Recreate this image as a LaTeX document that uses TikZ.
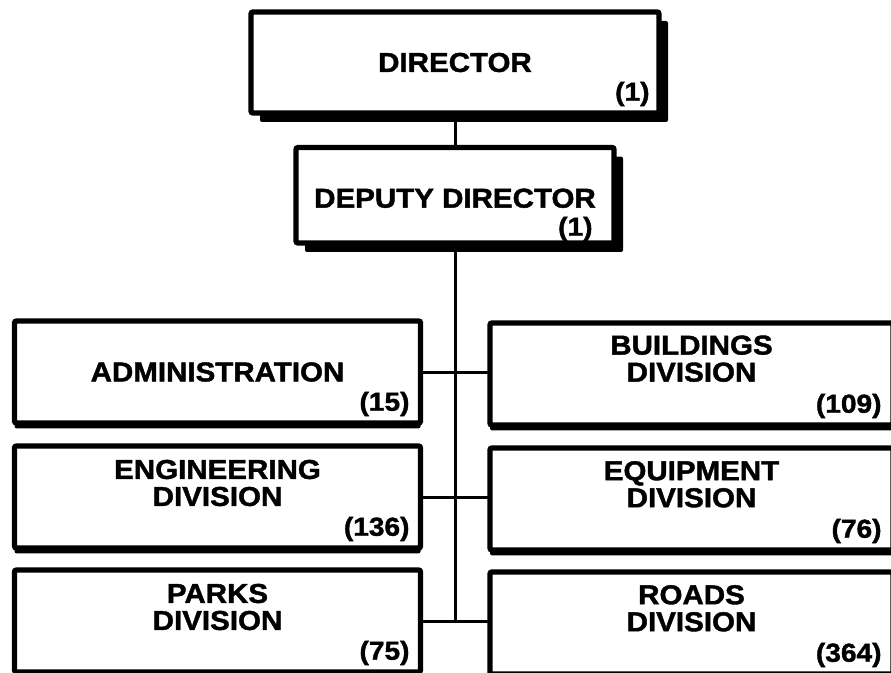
\documentclass[tikz,border=0pt]{standalone}
\usepackage{fontspec}
\newfontfamily\orgfont{Liberation Sans}[BoldFeatures={FakeBold=1.5,FakeStretch=1.08}]
\usetikzlibrary{shadows}

\tikzset{every picture/.style={line width=0.75pt}}
\tikzset{
  unitbox/.style={draw=black, line width=4pt, fill=white, rounded corners=1.5pt, inner sep=0pt, outer sep=0pt},
  topbox/.style={unitbox, drop shadow={shadow xshift=6.75pt, shadow yshift=-6.75pt, fill=black, opacity=1}},
  leftbox/.style={unitbox, minimum width=304.5pt, minimum height=76.5pt, drop shadow={shadow xshift=0pt, shadow yshift=-4pt, fill=black, opacity=1}},
  rightbox/.style={leftbox, minimum width=302.25pt},
  boxtext/.style={font=\orgfont\bfseries\fontsize{20.5}{20.25}\selectfont, align=center, inner sep=0pt},
  headcount/.style={font=\orgfont\bfseries\fontsize{19.5}{20.25}\selectfont, anchor=east, inner sep=0pt},
  link/.style={line width=2.25pt}
}

\begin{document}
\begin{tikzpicture}[x=0.75pt,y=0.75pt,yscale=-1,xscale=1]
\useasboundingbox (0,0) rectangle (891,673); %diagram is 891 x 673

%Shape: Rectangle [director]
\node [topbox, minimum width=306pt, minimum height=75.75pt] (director) at (455,62.5) {};
%Shape: Rectangle [deputy]
\node [topbox, minimum width=238.5pt, minimum height=71.6pt] (deputy) at (455,195.25) {};

%Shape: Rectangle [left column]
\node [leftbox] (admin) at (217.5,372) {};
\node [leftbox] (engin) at (217.5,497) {};
\node [leftbox] (parks) at (217.5,621) {};
%Shape: Rectangle [right column]
\node [rightbox] (build) at (691.5,374) {};
\node [rightbox] (equip) at (691.5,499) {};
\node [rightbox] (roads) at (691.5,623) {};

%Straight Lines
\draw [link] (director.south) -- (deputy.north) ;
\draw [link] (deputy.south) -- (deputy.south |- parks.east) ;
\draw [link] (admin.east) -- (admin.east -| build.west) ;
\draw [link] (engin.east) -- (engin.east -| equip.west) ;
\draw [link] (parks.east) -- (parks.east -| roads.west) ;

% Text Node (shifts follow yscale=-1: positive is down)
\node [boxtext] (director-t) at (director.center) {DIRECTOR};
\node [headcount] (director-n) at ([xshift=-6.75pt,yshift=-14.25pt]director.south east) {(1)};
% Text Node
\node [boxtext] (deputy-t) at ([yshift=2.25pt]deputy.center) {DEPUTY DIRECTOR};
\node [headcount] (deputy-n) at ([xshift=-15.75pt,yshift=-10.5pt]deputy.south east) {(1)};
% Text Node
\node [boxtext] (admin-t) at (admin.center) {ADMINISTRATION};
\node [headcount] (admin-n) at ([xshift=-7.9pt,yshift=-14.25pt]admin.south east) {(15)};
% Text Node
\node [boxtext] (engin-t) at ([yshift=-10.5pt]engin.center) {ENGINEERING\\DIVISION};
\node [headcount] (engin-n) at ([xshift=-7.9pt,yshift=-14.25pt]engin.south east) {(136)};
% Text Node
\node [boxtext] (parks-t) at ([yshift=-10.5pt]parks.center) {PARKS\\DIVISION};
\node [headcount] (parks-n) at ([xshift=-7.9pt,yshift=-14.25pt]parks.south east) {(75)};
% Text Node
\node [boxtext] (build-t) at ([yshift=-11.5pt]build.center) {BUILDINGS\\DIVISION};
\node [headcount] (build-n) at ([xshift=-8.25pt,yshift=-14.25pt]build.south east) {(109)};
% Text Node
\node [boxtext] (equip-t) at ([yshift=-11pt]equip.center) {EQUIPMENT\\DIVISION};
\node [headcount] (equip-n) at ([xshift=-8.25pt,yshift=-14.25pt]equip.south east) {(76)};
% Text Node
\node [boxtext] (roads-t) at ([yshift=-11pt]roads.center) {ROADS\\DIVISION};
\node [headcount] (roads-n) at ([xshift=-8.25pt,yshift=-14.25pt]roads.south east) {(364)};

\end{tikzpicture}
\end{document}
